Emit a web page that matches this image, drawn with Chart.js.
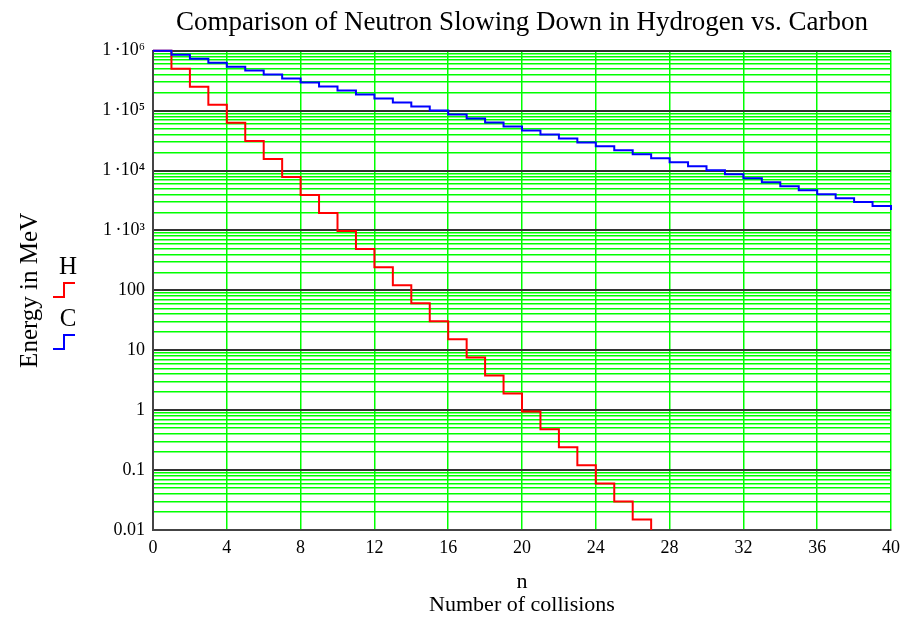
<!DOCTYPE html>
<html>
<head>
<meta charset="utf-8">
<script src="https://cdn.jsdelivr.net/npm/chart.js@4.4.0/dist/chart.umd.min.js"></script>
<style>
  html, body { margin: 0; padding: 0; background: #fff; }
  #wrap { width: 916px; height: 617px; }
</style>
</head>
<body>
<div id="wrap"><canvas id="chart" width="916" height="617"></canvas></div>
<script>
// Neutron energy (MeV) after n collisions
const collisions = [0, 1, 2, 3, 4, 5, 6, 7, 8, 9, 10, 11, 12, 13, 14, 15, 16, 17, 18, 19, 20,
    21, 22, 23, 24, 25, 26, 27, 28, 29, 30, 31, 32, 33, 34, 35, 36, 37, 38, 39, 40];

const hydrogenEnergy = [1000000, 500000, 250000, 125000, 62500, 31250, 15625, 7812, 3906, 1953, 977,
    488, 244, 122, 61, 30.5, 15.3, 7.6, 3.8, 1.9, 0.95,
    0.48, 0.24, 0.12, 0.06, 0.03, 0.015, 0.0075, 0.0037];

const carbonEnergy = [1000000, 858000, 736000, 632000, 542000, 465000, 399000, 342000, 294000, 252000, 216000,
    185500, 159000, 136500, 117000, 100500, 86300, 74000, 63500, 54500, 46700,
    40100, 34400, 29500, 25300, 21700, 18650, 16000, 13730, 11780, 10100,
    8670, 7440, 6380, 5480, 4700, 4030, 3460, 2970, 2550, 2185];

const xTickValues = [0, 4, 8, 12, 16, 20, 24, 28, 32, 36, 40];
const yDecades = [0.01, 0.1, 1, 10, 100, 1000, 10000, 100000, 1000000];
const yDecadeLabels = ['0.01', '0.1', '1', '10', '100', '1\u2009\u00b710\u00b3', '1\u2009\u00b710\u2074', '1\u2009\u00b710\u2075', '1\u2009\u00b710\u2076'];

const seriesLabels = ['H', 'C'];
const seriesColors = ['#ff0000', '#0000ff'];

const serif = "'Liberation Serif', 'Times New Roman', serif";
const gridGreen = '#00ff00';
const gridBlack = '#333333';

// log grid: 1..9 in every decade
function buildLogTicks() {
    const ticks = [];
    for (let i = 0; i < yDecades.length - 1; i++) {
        for (let k = 1; k < 10; k++) {
            ticks.push({ value: k * yDecades[i] });
        }
    }
    ticks.push({ value: yDecades[yDecades.length - 1] });
    return ticks;
}

function decadeIndex(value) {
    return yDecades.findIndex(d => Math.abs(value - d) / d < 1e-6);
}

function toPoints(values) {
    return values.map((v, i) => ({ x: collisions[i], y: v }));
}

// legend drawn as in the original: letter over a little step
const stepLegend = {
    id: 'stepLegend',
    afterDraw(chart) {
        const ctx = chart.ctx;
        ctx.save();
        chart.data.datasets.forEach((ds, i) => {
            const top = 267 + i * 52;
            ctx.font = '25px ' + serif;
            ctx.fillStyle = '#000';
            ctx.textAlign = 'center';
            ctx.textBaseline = 'middle';
            ctx.fillText(ds.label, 68, top);
            ctx.strokeStyle = ds.borderColor;
            ctx.lineWidth = 2;
            ctx.beginPath();
            ctx.moveTo(53, top + 30);
            ctx.lineTo(64, top + 30);
            ctx.lineTo(64, top + 16);
            ctx.lineTo(75, top + 16);
            ctx.stroke();
        });
        ctx.restore();
    }
};

new Chart(document.getElementById('chart'), {
    type: 'line',
    data: {
        datasets: [
            {
                label: seriesLabels[0],
                data: toPoints(hydrogenEnergy),
                borderColor: seriesColors[0],
                borderWidth: 2,
                pointRadius: 0,
                stepped: 'before',
                order: 1,
                clip: { left: 4, top: 4, right: 4, bottom: 0 }
            },
            {
                label: seriesLabels[1],
                data: toPoints(carbonEnergy),
                borderColor: seriesColors[1],
                borderWidth: 2,
                pointRadius: 0,
                stepped: 'before',
                order: 0,
                clip: { left: 4, top: 4, right: 4, bottom: 0 }
            }
        ]
    },
    options: {
        responsive: false,
        animation: false,
        layout: { padding: { left: 0, right: 25, top: 0, bottom: 0 } },
        plugins: {
            legend: { display: false },
            tooltip: { enabled: false },
            title: {
                display: true,
                fullSize: false,
                text: 'Comparison of Neutron Slowing Down in Hydrogen vs. Carbon',
                color: '#000',
                font: { family: serif, size: 27, weight: 'normal', lineHeight: 1.1 },
                padding: { top: 8, bottom: 13 }
            }
        },
        scales: {
            x: {
                type: 'linear',
                min: 0,
                max: 40,
                afterBuildTicks: s => { s.ticks = xTickValues.map(v => ({ value: v })); },
                afterFit: s => { s.height = 87; },
                grid: { color: gridGreen, lineWidth: 1.5, drawTicks: false },
                border: { color: '#444', width: 2 },
                ticks: {
                    color: '#000',
                    font: { family: serif, size: 18 },
                    padding: 7,
                    maxRotation: 0,
                    autoSkip: false
                },
                title: {
                    display: true,
                    text: ['n', 'Number of collisions'],
                    color: '#000',
                    font: { family: serif, size: 22, lineHeight: 1.05 },
                    padding: { top: 0, bottom: 0 }
                }
            },
            y: {
                type: 'logarithmic',
                min: 0.01,
                max: 1000000,
                afterBuildTicks: s => { s.ticks = buildLogTicks(); },
                afterFit: s => { s.width = 153; },
                grid: {
                    drawTicks: false,
                    color: c => decadeIndex(c.tick.value) >= 0 ? gridBlack : gridGreen,
                    lineWidth: c => decadeIndex(c.tick.value) >= 0 ? 2 : 1.5
                },
                border: { color: '#444', width: 2 },
                ticks: {
                    color: '#000',
                    font: { family: serif, size: 18 },
                    padding: 8,
                    autoSkip: false,
                    callback: (value) => {
                        const i = decadeIndex(value);
                        return i >= 0 ? yDecadeLabels[i] : '';
                    }
                },
                title: {
                    display: true,
                    text: 'Energy in MeV',
                    color: '#000',
                    font: { family: serif, size: 25 },
                    padding: { top: 15, bottom: 0 }
                }
            }
        }
    },
    plugins: [stepLegend]
});
</script>
</body>
</html>
